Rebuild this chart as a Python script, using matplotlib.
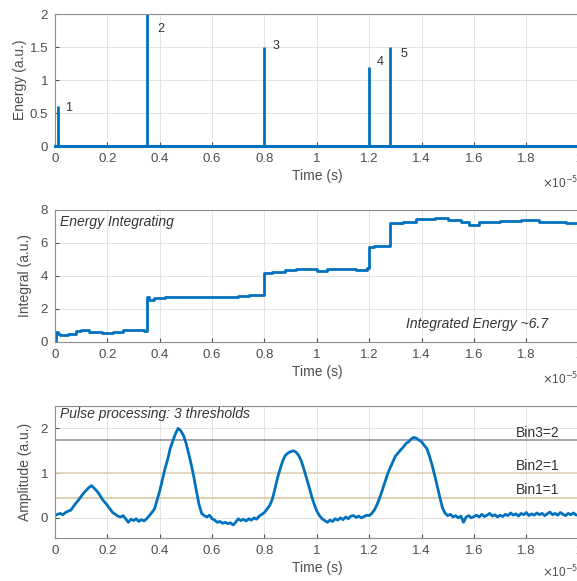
import numpy as np
import matplotlib
matplotlib.use("Agg")
import matplotlib.pyplot as plt

plt.rcParams['font.family'] = ['Liberation Sans', 'DejaVu Sans']
plt.rcParams['font.size'] = 9

# DATA (time in units of 1e-5 s)

spike_t = [0.01, 0.35, 0.80, 1.20, 1.28]
spike_e = [0.6, 2.0, 1.5, 1.2, 1.5]
spike_lbl = ["1", "2", "3", "4", "5"]
spike_lbl_x = [0.04, 0.39, 0.83, 1.23, 1.32]
spike_lbl_y = [0.58, 1.78, 1.52, 1.27, 1.40]

integ_t = [0, 0.005, 0.01, 0.02, 0.05, 0.08, 0.10, 0.13, 0.18, 0.22, 0.26, 0.30,
           0.34, 0.35, 0.36, 0.38, 0.42, 0.48, 0.55, 0.62, 0.66, 0.70, 0.74, 0.79,
           0.80, 0.83, 0.88, 0.92, 0.96, 1.00, 1.04, 1.10, 1.15, 1.19, 1.20, 1.22,
           1.27, 1.28, 1.33, 1.38, 1.45, 1.50, 1.55, 1.58, 1.62, 1.70, 1.78, 1.85,
           1.90, 1.95, 2.0]
integ_v = [0, 0.6, 0.5, 0.45, 0.5, 0.65, 0.7, 0.6, 0.55, 0.6, 0.7, 0.7,
           0.65, 2.7, 2.55, 2.65, 2.7, 2.75, 2.7, 2.7, 2.75, 2.8, 2.85, 2.85,
           4.2, 4.25, 4.35, 4.45, 4.4, 4.3, 4.4, 4.45, 4.35, 4.5, 5.75, 5.8,
           5.8, 7.2, 7.25, 7.45, 7.5, 7.4, 7.3, 7.1, 7.3, 7.35, 7.4, 7.3,
           7.3, 7.2, 7.1]

pulse_t = np.arange(201) * 0.01
pulse_a = [0.05, 0.08, 0.10, 0.07, 0.12, 0.15, 0.17, 0.25, 0.33, 0.40,
           0.48, 0.56, 0.62, 0.68, 0.72, 0.66, 0.60, 0.52, 0.42, 0.35,
           0.28, 0.20, 0.12, 0.08, 0.04, 0.02, 0.05, -0.02, -0.10, -0.03,
           -0.06, -0.02, -0.08, -0.04, -0.07, -0.02, 0.05, 0.12, 0.20, 0.40,
           0.60, 0.85, 1.10, 1.30, 1.55, 1.72, 1.88, 2.00, 1.95, 1.85,
           1.68, 1.45, 1.20, 0.92, 0.60, 0.30, 0.10, 0.05, 0.02, 0.06,
           -0.02, -0.05, -0.10, -0.08, -0.12, -0.10, -0.13, -0.11, -0.16, -0.10,
           -0.02, -0.06, -0.03, -0.07, -0.02, -0.05, 0.00, -0.03, 0.04, 0.08,
           0.12, 0.20, 0.28, 0.42, 0.65, 0.90, 1.10, 1.28, 1.40, 1.45,
           1.48, 1.50, 1.47, 1.40, 1.28, 1.10, 0.90, 0.70, 0.48, 0.30,
           0.15, 0.05, -0.02, -0.06, -0.10, -0.05, -0.08, -0.02, -0.05, 0.00,
           -0.04, 0.02, -0.02, 0.04, 0.05, 0.01, 0.04, 0.00, 0.03, 0.06,
           0.05, 0.10, 0.18, 0.30, 0.45, 0.62, 0.80, 0.98, 1.12, 1.25,
           1.38, 1.45, 1.52, 1.58, 1.66, 1.70, 1.76, 1.80, 1.78, 1.74,
           1.70, 1.62, 1.55, 1.38, 1.18, 0.95, 0.70, 0.45, 0.22, 0.10,
           0.05, 0.08, 0.02, 0.05, 0.00, 0.04, -0.10, 0.02, 0.05, 0.00,
           0.03, 0.06, 0.02, 0.08, 0.03, 0.06, 0.10, 0.04, 0.07, 0.02,
           0.06, 0.03, 0.08, 0.05, 0.11, 0.06, 0.09, 0.04, 0.10, 0.07,
           0.12, 0.05, 0.09, 0.06, 0.11, 0.07, 0.10, 0.05, 0.09, 0.13,
           0.07, 0.10, 0.06, 0.12, 0.08, 0.05, 0.10, 0.07, 0.11, 0.06,
           0.08]

thresholds = [0.45, 1.0, 1.73]
thr_colors = ["#d8c8a8", "#e3d3b4", "#9a96a6"]
bin_labels = ["Bin1=1", "Bin2=1", "Bin3=2"]

BLUE = "#0072BD"
GRAY = "#4d4d4d"

fig = plt.figure(figsize=(5.77, 5.81), dpi=100)
W = 1.003 - 0.0953
ax1 = fig.add_axes([0.0953, 0.7487, W, 0.2272])
ax2 = fig.add_axes([0.0953, 0.4114, W, 0.2272])
ax3 = fig.add_axes([0.0953, 0.0740, W, 0.2272])


def style(ax, mult_y=-0.28):
    ax.set_xlim(0, 2)
    ax.set_xticks(np.arange(0, 2.01, 0.2))
    ax.set_xticklabels(["0", "0.2", "0.4", "0.6", "0.8", "1", "1.2", "1.4", "1.6", "1.8", "2"])
    ax.grid(True, color="#e4e4e4", lw=0.7)
    ax.set_axisbelow(True)
    ax.tick_params(direction="in", length=3, colors=GRAY, labelsize=9.5, pad=5)
    for s in ax.spines.values():
        s.set_color("#8c8c8c")
        s.set_linewidth(0.8)
    ax.set_xlabel("Time (s)", color=GRAY, fontsize=10, labelpad=3)
    ax.text(0.93, mult_y, r"$\times$10$^{-5}$", transform=ax.transAxes,
            color=GRAY, fontsize=8.5, ha="left", va="center")


# TOP: energy spikes
style(ax1)
ax1.vlines(spike_t, 0, spike_e, color=BLUE, lw=2)
ax1.plot([0, 2], [0, 0], color=BLUE, lw=2.2, clip_on=False, zorder=5)
for x, y, s in zip(spike_lbl_x, spike_lbl_y, spike_lbl):
    ax1.text(x, y, s, color="#333333", fontsize=9, va="center")
ax1.set_ylim(0, 2)
ax1.set_yticks([0, 0.5, 1, 1.5, 2])
ax1.set_yticklabels(["0", "0.5", "1", "1.5", "2"])
ax1.set_ylabel("Energy (a.u.)", color=GRAY, fontsize=10, labelpad=2)

# MIDDLE: integral
style(ax2)
ax2.plot(integ_t, integ_v, drawstyle="steps-post", color=BLUE, lw=2)
ax2.set_ylim(0, 8)
ax2.set_yticks([0, 2, 4, 6, 8])
ax2.set_ylabel("Integral (a.u.)", color=GRAY, fontsize=10, labelpad=6)
ax2.text(0.02, 7.3, "Energy Integrating", style="italic", color="#333333", fontsize=10, va="center")
ax2.text(1.34, 1.1, "Integrated Energy ~6.7", style="italic", color="#333333", fontsize=10, va="center")

# BOTTOM: pulse processing
style(ax3, mult_y=-0.255)
for th, c in zip(thresholds, thr_colors):
    ax3.axhline(th, color=c, lw=1.2, zorder=1.5)
ax3.plot(pulse_t, pulse_a, color=BLUE, lw=2)
for th, s in zip(thresholds, bin_labels):
    ax3.text(1.76, th + 0.17, s, color="#333333", fontsize=10, va="center")
ax3.set_ylim(-0.45, 2.5)
ax3.set_yticks([0, 1, 2])
ax3.set_ylabel("Amplitude (a.u.)", color=GRAY, fontsize=10, labelpad=6)
ax3.text(0.02, 2.32, "Pulse processing: 3 thresholds", style="italic", color="#333333", fontsize=10, va="center")

fig.savefig("out.png", dpi=100)
